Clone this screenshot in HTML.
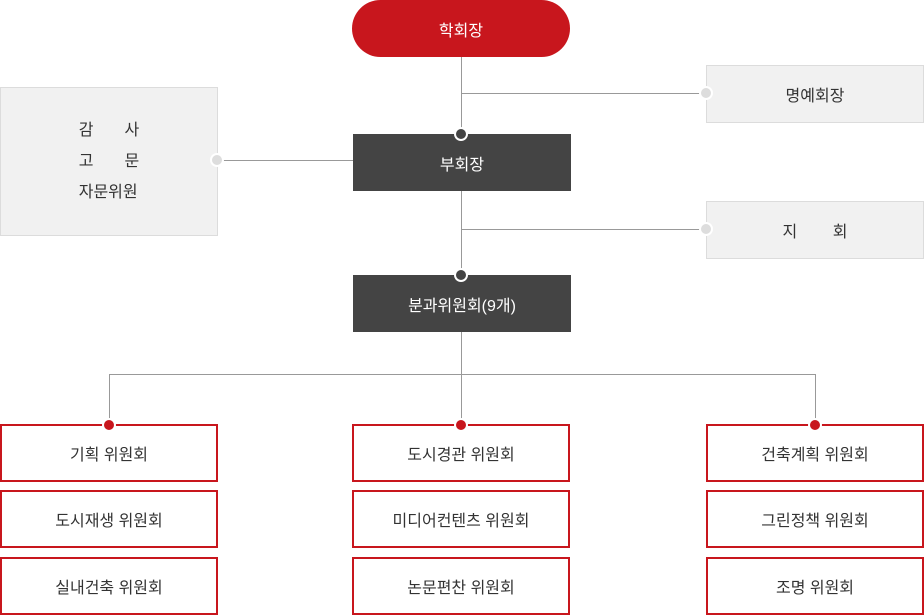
<!DOCTYPE html>
<html><head><meta charset="utf-8"><style>
body{margin:0;width:924px;height:615px;background:#fff;position:relative;overflow:hidden;font-family:"Liberation Sans","Noto Sans CJK KR",sans-serif;}
div{position:absolute;box-sizing:border-box;}
.t{display:flex;align-items:center;justify-content:center;font-size:16px;}
.pill{left:352px;top:0;width:218px;height:57px;border-radius:29px;background:#c8161d;color:#fff;}
.dk{background:#444;color:#fff;width:218px;height:57px;left:353px;}
.gr{background:#f1f1f1;border:1px solid #dcdcdc;color:#333;}
.rd{border:2px solid #c8161d;background:#fff;color:#333;width:218px;height:58px;}
.vl{width:1px;background:#999;}
.hl{height:1px;background:#999;}
.dot{width:14px;height:14px;border-radius:50%;border:2px solid #fff;}
.dd{background:#444;}.dg{background:#ddd;}.dr{background:#c8161d;}
</style></head><body>
<div class="vl" style="left:461px;top:57px;height:218px"></div>
<div class="hl" style="left:461px;top:93px;width:245px"></div>
<div class="hl" style="left:217px;top:160px;width:136px"></div>
<div class="hl" style="left:461px;top:229px;width:245px"></div>
<div class="vl" style="left:461px;top:332px;height:92px"></div>
<div class="hl" style="left:109px;top:374px;width:707px"></div>
<div class="vl" style="left:109px;top:374px;height:50px"></div>
<div class="vl" style="left:815px;top:374px;height:50px"></div>

<div class="t pill">학회장</div>
<div class="t gr" style="left:706px;top:65px;width:218px;height:58px">명예회장</div>
<div class="t gr" style="left:0;top:87px;width:218px;height:149px;line-height:31px;text-align:left"><div style="position:static">감&nbsp;&nbsp;&nbsp;&nbsp;&nbsp;&nbsp;&nbsp;사<br>고&nbsp;&nbsp;&nbsp;&nbsp;&nbsp;&nbsp;&nbsp;문<br>자문위원</div></div>
<div class="t dk" style="top:134px">부회장</div>
<div class="t gr" style="left:706px;top:201px;width:218px;height:58px">지&nbsp;&nbsp;&nbsp;&nbsp;&nbsp;&nbsp;&nbsp;&nbsp;회</div>
<div class="t dk" style="top:275px">분과위원회(9개)</div>

<div class="t rd" style="left:0;top:424px">기획 위원회</div>
<div class="t rd" style="left:0;top:490px">도시재생 위원회</div>
<div class="t rd" style="left:0;top:557px">실내건축 위원회</div>
<div class="t rd" style="left:352px;top:424px">도시경관 위원회</div>
<div class="t rd" style="left:352px;top:490px">미디어컨텐츠 위원회</div>
<div class="t rd" style="left:352px;top:557px">논문편찬 위원회</div>
<div class="t rd" style="left:706px;top:424px">건축계획 위원회</div>
<div class="t rd" style="left:706px;top:490px">그린정책 위원회</div>
<div class="t rd" style="left:706px;top:557px">조명 위원회</div>

<div class="dot dd" style="left:454px;top:127px"></div>
<div class="dot dd" style="left:454px;top:268px"></div>
<div class="dot dg" style="left:699px;top:86px"></div>
<div class="dot dg" style="left:699px;top:222px"></div>
<div class="dot dg" style="left:210px;top:153px"></div>
<div class="dot dr" style="left:102px;top:418px"></div>
<div class="dot dr" style="left:454px;top:418px"></div>
<div class="dot dr" style="left:808px;top:418px"></div>
</body></html>
